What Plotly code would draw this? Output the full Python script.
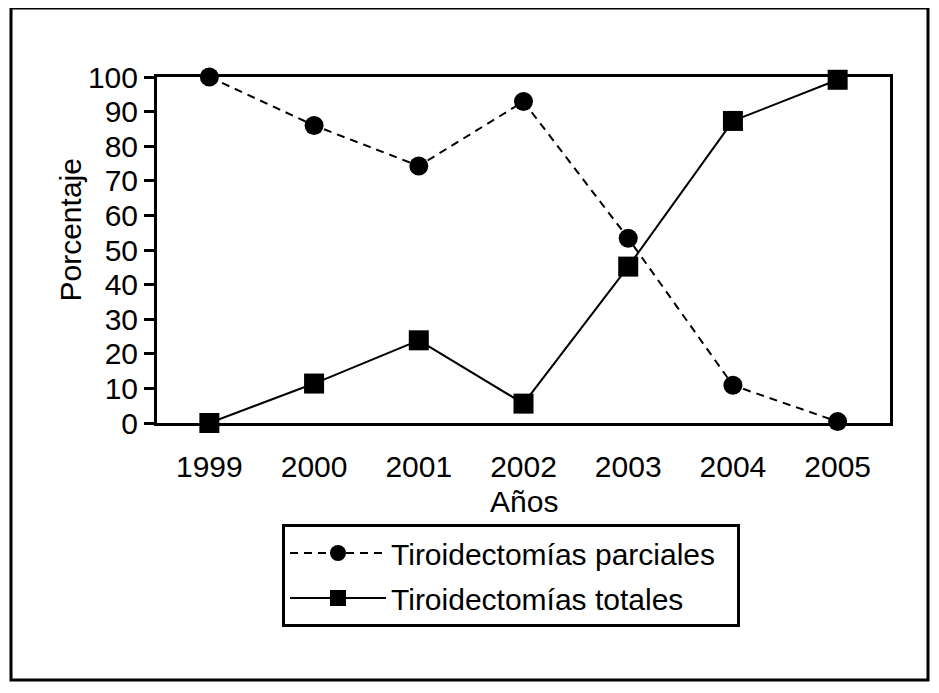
import plotly.graph_objects as go

years = ["1999", "2000", "2001", "2002", "2003", "2004", "2005"]
parciales = [100, 86, 74.3, 92.9, 53.4, 10.9, 0.4]
totales = [0, 11.4, 23.9, 5.6, 45.2, 87.3, 99.2]
y_ticks = [0, 10, 20, 30, 40, 50, 60, 70, 80, 90, 100]

FONT = "Liberation Sans, Arial, Helvetica, sans-serif"
FS = 30

# page body adds an 8px margin: work in reference pixels minus 8
OFF = 8
W, H = 939 - OFF, 693 - OFF
L, R, T, B = 157 - OFF, W - (890 - OFF), 77 - OFF, H - (423 - OFF)
pw, ph = W - L - R, H - T - B

def px_x(p):
    return (p - OFF - L) / pw

def px_y(p):
    return (H - B - (p - OFF)) / ph

fig = go.Figure()
fig.add_trace(go.Scatter(
    x=years, y=parciales, mode="lines+markers",
    name="Tiroidectomías parciales\u00a0\u00a0",
    line=dict(color="black", width=2, dash="8px,6px"),
    marker=dict(symbol="circle", size=19, color="black"),
    legendgroup="a", cliponaxis=False,
))
fig.add_trace(go.Scatter(
    x=years, y=totales, mode="lines+markers",
    name="Tiroidectomías totales",
    line=dict(color="black", width=2),
    marker=dict(symbol="square", size=20, color="black"),
    legendgroup="b", cliponaxis=False,
))

fig.update_layout(
    width=W, height=H,
    margin=dict(l=L, r=R, t=T, b=B, pad=0),
    paper_bgcolor="white", plot_bgcolor="white",
    font=dict(family=FONT, size=FS, color="black"),
    showlegend=True,
    legend=dict(
        x=px_x(282), y=px_y(524), xanchor="left", yanchor="top",
        bordercolor="black", borderwidth=3, bgcolor="white",
        font=dict(family=FONT, size=FS, color="black"),
        tracegroupgap=3, traceorder="grouped", itemwidth=96,
    ),
    xaxis=dict(
        type="category", range=[-0.5, 6.5],
        showline=True, linecolor="black", linewidth=3, mirror=True,
        showgrid=False, zeroline=False, ticks="",
        ticklabelstandoff=15,
        tickfont=dict(family=FONT, size=FS, color="black"),
    ),
    yaxis=dict(
        range=[0, 100], tickvals=y_ticks,
        showline=True, linecolor="black", linewidth=3, mirror=True,
        showgrid=False, zeroline=False,
        ticks="outside", ticklen=10, tickwidth=3, tickcolor="black",
        tickfont=dict(family=FONT, size=FS, color="black"),
    ),
    annotations=[
        dict(text="Porcentaje", textangle=-90, xref="paper", yref="paper",
             x=px_x(70), y=px_y(230.5), xanchor="center", yanchor="middle",
             showarrow=False, font=dict(family=FONT, size=FS, color="black")),
        dict(text="Años", xref="paper", yref="paper",
             x=px_x(524), y=px_y(501), xanchor="center", yanchor="middle",
             showarrow=False, font=dict(family=FONT, size=FS, color="black")),
    ],
    shapes=[
        dict(type="rect", xref="paper", yref="paper",
             x0=px_x(11), x1=px_x(928), y0=px_y(680), y1=px_y(8),
             line=dict(color="black", width=3), fillcolor="rgba(0,0,0,0)",
             layer="below"),
    ],
)

fig.write_html("out.html")
